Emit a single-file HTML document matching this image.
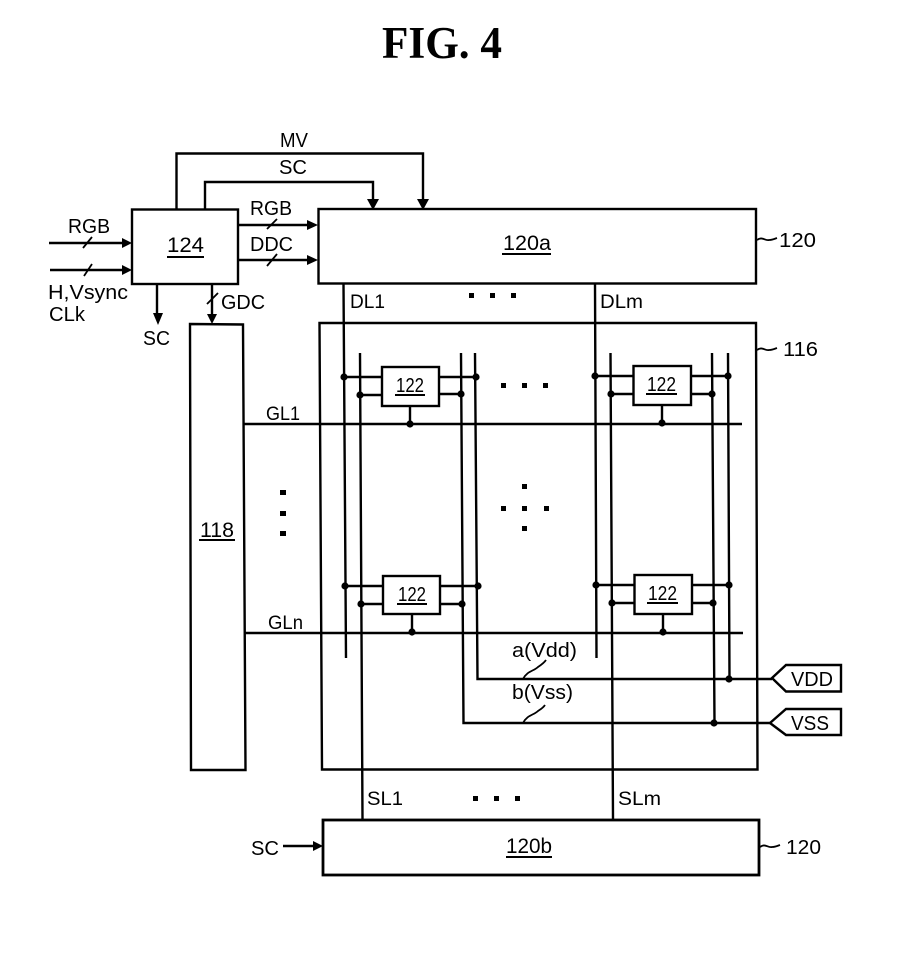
<!DOCTYPE html>
<html><head><meta charset="utf-8"><style>
html,body{margin:0;padding:0;background:#fff}
svg{display:block}
text{font-family:"Liberation Sans",sans-serif;font-size:20px;fill:#000}
.u{font-size:21px}
.s{font-size:19px}
</style></head><body>
<svg width="921" height="969" viewBox="0 0 921 969" xmlns="http://www.w3.org/2000/svg">
<text x="382" y="58" textLength="120" lengthAdjust="spacingAndGlyphs" style="font-family:'Liberation Serif',serif;font-weight:bold;font-size:45px">FIG. 4</text>

<g fill="none" stroke="#000" stroke-width="2.400">
<!-- blocks -->
<rect x="132" y="209.500" width="106" height="74.500"/>
<rect x="318.500" y="209" width="437.500" height="74.500"/>
<polygon points="190,324 243,324.500 245.500,770 191,770"/>
<polygon points="319.500,323 756,323 757.500,769.500 322,769.500"/>
<rect x="323" y="820" width="436" height="55" stroke-width="2.800"/>
<rect x="382" y="367" width="57" height="39"/>
<rect x="633.500" y="366" width="57.500" height="39"/>
<rect x="383" y="576" width="57" height="38"/>
<rect x="634.500" y="575" width="57.500" height="39"/>

<!-- top routes -->
<path d="M176.500 209V153.500H423V203"/>
<path d="M205 209V182H373V203"/>
<path d="M238 225H310M238 260H310M49 243H125M50 270H125M157 284V315M212 284V316M283 846H316"/>

<!-- vertical data / supply -->
<path d="M343.500 284L346 658M360 353L362.500 819M461 353L463.500 723H770M475 353L477.500 679H772"/>
<path d="M595 284L596.500 658M610.500 353L613 819M712 353L714.500 723M728 353L729.500 679"/>

<!-- gate lines -->
<path d="M244 424H742M245 633H743"/>

<!-- cell stubs -->
<path d="M344 377H382M360 395H382M439 377H476M439 394H461M410 406V423"/>
<path d="M595 376H633M611 394H633M691 376H728M691 394H712M662 405V423"/>
<path d="M345 586H383M361 604H383M440 586H478M440 604H462M412 614V632"/>
<path d="M596 585H634M612 603H634M692 585H729M692 603H713M663 614V632"/>

<!-- tags -->
<polygon points="772,678 786,665 841,665 841,691.500 786,691.500"/>
<polygon points="770,723 786,709 841,709 841,735 786,735"/>

<!-- slashes -->
<g stroke-width="1.800">
<path d="M83 248L92 237M84 276L92 264M267 229L277 219M267 266L277 254M207 304L218 293"/>
</g>
<!-- squiggles -->
<g stroke-width="1.800">
<path d="M757 240C762 236 765 241 769 240C772 240 774 239 777 238"/>
<path d="M757 350C762 346 765 351 769 350C772 350 774 349 777 348"/>
<path d="M760 847C765 843 768 848 772 847C775 847 777 846 780 845"/>
<path d="M523 679C527 671 534 671 538 667C541 665 544 663 546 660"/>
<path d="M523 723C527 715 534 715 538 711C541 709 543 708 545 705"/>
</g>
</g>

<!-- arrowheads -->
<g fill="#000">
<polygon points="367,199 379,199 373,210"/>
<polygon points="417,199 429,199 423,210"/>
<polygon points="307,220 318,225 307,230"/>
<polygon points="307,255 318,260 307,265"/>
<polygon points="122,238 132,243 122,248"/>
<polygon points="122,265 132,270 122,275"/>
<polygon points="153,313 163,313 158,325"/>
<polygon points="207,314 217,314 212,324"/>
<polygon points="313,841 323,846 313,851"/>

<!-- junction dots -->
<circle cx="344" cy="377" r="3.600"/><circle cx="360" cy="395" r="3.600"/><circle cx="476" cy="377" r="3.600"/><circle cx="461" cy="394" r="3.600"/><circle cx="410" cy="424" r="3.600"/>
<circle cx="595" cy="376" r="3.600"/><circle cx="611" cy="394" r="3.600"/><circle cx="712" cy="394" r="3.600"/><circle cx="728" cy="376" r="3.600"/><circle cx="662" cy="423" r="3.600"/>
<circle cx="345" cy="586" r="3.600"/><circle cx="361" cy="604" r="3.600"/><circle cx="478" cy="586" r="3.600"/><circle cx="462" cy="604" r="3.600"/><circle cx="412" cy="632" r="3.600"/>
<circle cx="596" cy="585" r="3.600"/><circle cx="612" cy="603" r="3.600"/><circle cx="713" cy="603" r="3.600"/><circle cx="729" cy="585" r="3.600"/><circle cx="663" cy="632" r="3.600"/>
<circle cx="729" cy="679" r="3.600"/><circle cx="714" cy="723" r="3.600"/>

<!-- ellipsis squares -->
<rect x="469" y="293" width="5" height="5"/><rect x="490" y="293" width="5" height="5"/><rect x="511" y="293" width="5" height="5"/>
<rect x="501" y="383" width="5" height="5"/><rect x="522" y="383" width="5" height="5"/><rect x="543" y="383" width="5" height="5"/>
<rect x="280" y="490" width="6" height="5"/><rect x="280" y="511" width="6" height="5"/><rect x="280" y="531" width="6" height="5"/>
<rect x="522" y="484" width="5" height="5"/><rect x="501" y="506" width="5" height="5"/><rect x="522" y="506" width="5" height="5"/><rect x="544" y="506" width="5" height="5"/><rect x="522" y="526" width="5" height="5"/>
<rect x="473" y="796" width="5" height="5"/><rect x="494" y="796" width="5" height="5"/><rect x="515" y="796" width="5" height="5"/>

<!-- underlines -->
<rect x="167" y="256" width="37" height="2"/>
<rect x="502" y="253" width="49" height="2"/>
<rect x="199" y="539" width="36" height="2"/>
<rect x="395" y="394" width="30" height="2"/>
<rect x="646" y="393" width="31" height="2"/>
<rect x="397" y="603" width="30" height="2"/>
<rect x="647" y="602" width="31" height="2"/>
<rect x="506" y="856" width="46" height="2"/>
</g>

<!-- labels -->
<text x="280" y="147" textLength="28" lengthAdjust="spacingAndGlyphs">MV</text>
<text x="279" y="174" textLength="28" lengthAdjust="spacingAndGlyphs">SC</text>
<text x="68" y="233" textLength="42" lengthAdjust="spacingAndGlyphs">RGB</text>
<text x="250" y="215" textLength="42" lengthAdjust="spacingAndGlyphs">RGB</text>
<text x="250" y="251" textLength="43" lengthAdjust="spacingAndGlyphs">DDC</text>
<text x="48" y="299" textLength="80" lengthAdjust="spacingAndGlyphs">H,Vsync</text>
<text x="49" y="321" textLength="36" lengthAdjust="spacingAndGlyphs">CLk</text>
<text x="143" y="345" textLength="27" lengthAdjust="spacingAndGlyphs">SC</text>
<text x="221" y="309" textLength="44" lengthAdjust="spacingAndGlyphs">GDC</text>
<text class="u" x="167" y="252" textLength="37" lengthAdjust="spacingAndGlyphs">124</text>
<text class="u" x="503" y="250" textLength="48" lengthAdjust="spacingAndGlyphs">120a</text>
<text class="u" x="200" y="537" textLength="34" lengthAdjust="spacingAndGlyphs">118</text>
<text class="u" x="506" y="853" textLength="46" lengthAdjust="spacingAndGlyphs">120b</text>
<text x="396" y="392" textLength="28" lengthAdjust="spacingAndGlyphs">122</text>
<text x="647" y="391" textLength="29" lengthAdjust="spacingAndGlyphs">122</text>
<text x="398" y="601" textLength="28" lengthAdjust="spacingAndGlyphs">122</text>
<text x="648" y="600" textLength="29" lengthAdjust="spacingAndGlyphs">122</text>
<text x="779" y="247" textLength="37" lengthAdjust="spacingAndGlyphs">120</text>
<text x="783" y="356" textLength="35" lengthAdjust="spacingAndGlyphs">116</text>
<text x="786" y="854" textLength="35" lengthAdjust="spacingAndGlyphs">120</text>
<text class="s" x="350" y="308" textLength="35" lengthAdjust="spacingAndGlyphs">DL1</text>
<text class="s" x="600" y="308" textLength="43" lengthAdjust="spacingAndGlyphs">DLm</text>
<text class="s" x="266" y="420" textLength="34" lengthAdjust="spacingAndGlyphs">GL1</text>
<text class="s" x="268" y="629" textLength="35" lengthAdjust="spacingAndGlyphs">GLn</text>
<text x="512" y="657" textLength="65" lengthAdjust="spacingAndGlyphs">a(Vdd)</text>
<text x="512" y="699" textLength="61" lengthAdjust="spacingAndGlyphs">b(Vss)</text>
<text x="791" y="686" textLength="42" lengthAdjust="spacingAndGlyphs">VDD</text>
<text x="791" y="730" textLength="38" lengthAdjust="spacingAndGlyphs">VSS</text>
<text class="s" x="367" y="805" textLength="36" lengthAdjust="spacingAndGlyphs">SL1</text>
<text class="s" x="618" y="805" textLength="43" lengthAdjust="spacingAndGlyphs">SLm</text>
<text x="251" y="855" textLength="28" lengthAdjust="spacingAndGlyphs">SC</text>
</svg>
</body></html>
